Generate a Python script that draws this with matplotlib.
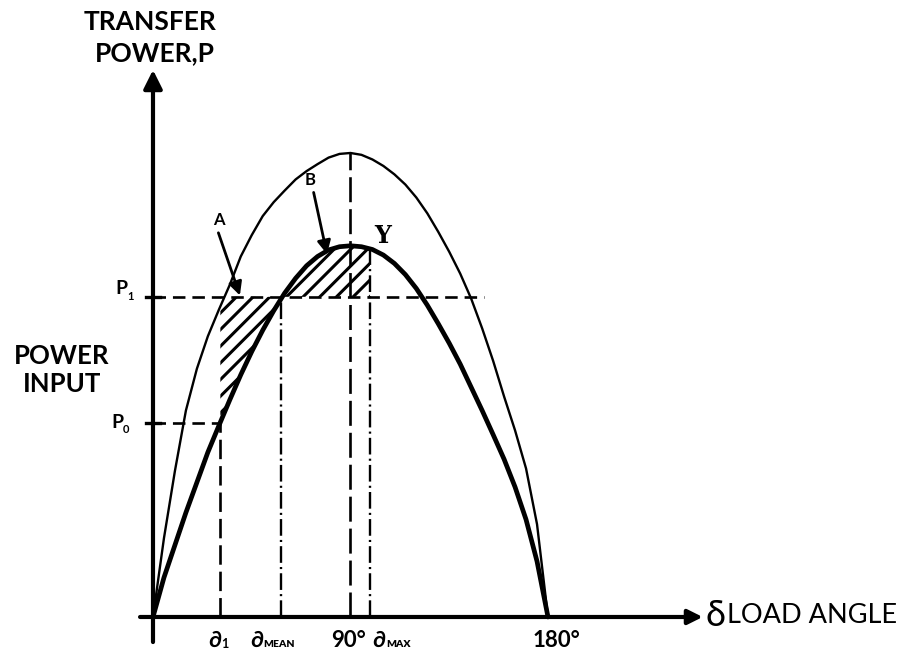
import numpy as np
import matplotlib
matplotlib.use("Agg")
import matplotlib.pyplot as plt

# ---------------- data ----------------
angle_deg = [0, 5, 10, 15, 20, 25, 30, 35, 40, 45, 50, 55, 60, 65, 70, 75, 80, 85, 90,
             95, 100, 105, 110, 115, 120, 125, 130, 135, 140, 145, 150, 155, 160, 165, 170, 175, 180]
outer_power = [0, 17, 31.5, 44.5, 53.5, 60.5, 66.2, 71.6, 77.7, 82.3, 86.4, 89.4, 91.9, 94.3, 96.1, 97.6, 99, 99.8, 100,
               99.6, 98.6, 97.2, 95.4, 93.2, 90.4, 87, 83, 78.7, 74, 68.6, 62.2, 55.2, 47.5, 40.2, 32, 20, 0]
inner_power = [0, 8.5, 15.5, 22.5, 29, 35.5, 41.2, 46.8, 52.2, 57.2, 61.8, 66, 69.8, 73, 75.7, 77.7, 79.1, 79.8, 80,
               79.8, 79.2, 78, 76.2, 73.8, 70.8, 67.2, 63.2, 59, 54.5, 49.5, 44.5, 39.3, 34, 28, 21, 12, 0]

delta_1 = 30.7
delta_mean = 58.5
delta_90 = 90
delta_max = 98.9
delta_180 = 180
P1 = 69.0
P0 = 41.8
p1_line_end = 150.7

# ---------------- figure ----------------
plt.rcParams['lines.scale_dashes'] = False
plt.rcParams['hatch.linewidth'] = 2.2
FONT = ['Lato', 'DejaVu Sans']

fig = plt.figure(figsize=(9.09, 6.51), dpi=100)
ax = fig.add_axes([0, 0, 1, 1])
ax.set_xlim(-69.72, 344.51)
ax.set_ylim(-7.33, 132.97)
ax.axis('off')

ang = np.array(angle_deg, dtype=float)
inner = np.array(inner_power, dtype=float)
outer = np.array(outer_power, dtype=float)

# hatched areas
xa = np.array([delta_1] + [a for a in angle_deg if delta_1 < a < delta_mean] + [delta_mean], dtype=float)
ax.fill_between(xa, np.interp(xa, ang, inner), P1, facecolor='none', edgecolor='k',
                hatch='//', linewidth=0, zorder=1)
xb = np.array([delta_mean] + [a for a in angle_deg if delta_mean < a < delta_max] + [delta_max], dtype=float)
ax.fill_between(xb, P1, np.interp(xb, ang, inner), facecolor='none', edgecolor='k',
                hatch='//', linewidth=0, zorder=1)

# curves
ax.plot(ang, outer, color='k', lw=1.7, zorder=3, solid_capstyle='round', solid_joinstyle='round')
ax.plot(ang, inner, color='k', lw=3.4, zorder=3, solid_capstyle='round', solid_joinstyle='round')

# guide lines
ax.plot([0, p1_line_end], [P1, P1], color='k', lw=1.9, dashes=(9, 5), zorder=2)
ax.plot([0, delta_1], [P0, P0], color='k', lw=1.9, dashes=(9, 5), zorder=2)
ax.plot([delta_1, delta_1], [0, P0], color='k', lw=1.9, dashes=(14, 5), zorder=2)
ax.plot([delta_mean, delta_mean], [0, P1], color='k', lw=1.7, dashes=(12, 3, 1.5, 3), zorder=2)
ax.plot([delta_90, delta_90], [0, 100], color='k', lw=1.9, dashes=(18, 5), zorder=2)
ax.plot([delta_max, delta_max], [0, np.interp(delta_max, ang, inner)], color='k', lw=1.7,
        dashes=(12, 3, 1.5, 3), zorder=2)

# y-axis ticks at P1, P0
for pv in (P1, P0):
    ax.plot([-3.0, 3.0], [pv, pv], color='k', lw=2.4, zorder=4)

# axes with arrows
ax.annotate('', xy=(0, 117.9), xytext=(0, -5.4),
            arrowprops=dict(arrowstyle='-|>', lw=3.0, color='k', mutation_scale=28,
                            shrinkA=0, shrinkB=0), zorder=5)
ax.annotate('', xy=(250.5, 0), xytext=(-5.9, 0),
            arrowprops=dict(arrowstyle='-|>', lw=3.0, color='k', mutation_scale=22,
                            shrinkA=0, shrinkB=0), zorder=5)

# annotation arrows A, B
ax.annotate('', xy=(39.6, P1 + 0.3), xytext=(29.8, 82.8),
            arrowprops=dict(arrowstyle='-|>', lw=2.0, color='k', mutation_scale=20,
                            shrinkA=0, shrinkB=0), zorder=6)
ax.text(30.1, 85.5, 'A', ha='center', va='center', fontsize=12, fontweight='bold', family=FONT)
ax.annotate('', xy=(79.3, 78.2), xytext=(73.2, 91.5),
            arrowprops=dict(arrowstyle='-|>', lw=2.0, color='k', mutation_scale=20,
                            shrinkA=0, shrinkB=0), zorder=6)
ax.text(71.5, 94.2, 'B', ha='center', va='center', fontsize=12, fontweight='bold', family=FONT)
ax.text(104.8, 82.1, 'Y', ha='center', va='center', fontsize=17, fontweight='bold',
        family=['DejaVu Serif'])

# axis titles
ax.text(-1.4, 128.2, 'TRANSFER', ha='center', va='center', fontsize=19, fontweight='bold', family=FONT)
ax.text(0.9, 121.6, 'POWER,P', ha='center', va='center', fontsize=19, fontweight='bold', family=FONT)
ax.text(-41.5, 56.3, 'POWER', ha='center', va='center', fontsize=18.5, fontweight='bold', family=FONT)
ax.text(-41.5, 50.3, 'INPUT', ha='center', va='center', fontsize=18.5, fontweight='bold', family=FONT)
ax.text(251.8, 0.3, 'δ', ha='left', va='center', fontsize=26, family=FONT)
ax.text(261.5, 0.3, 'LOAD ANGLE', ha='left', va='center', fontsize=19.5, family=FONT)

# P labels
ax.text(-14.2, 70.7, 'P', ha='center', va='center', fontsize=14, fontweight='bold', family=FONT)
ax.text(-11.6, 69.0, '1', ha='left', va='center', fontsize=8, fontweight='bold', family=FONT)
ax.text(-16.2, P0 + 0.2, 'P', ha='center', va='center', fontsize=14, fontweight='bold', family=FONT)
ax.text(-13.6, P0 - 1.5, '0', ha='left', va='center', fontsize=8, fontweight='bold', family=FONT)

# x labels
ylab = -5.0
ax.text(delta_1 - 2.5, ylab, '∂', ha='center', va='center', fontsize=16, fontweight='bold', family=FONT)
ax.text(delta_1 + 0.4, ylab - 0.9, '1', ha='left', va='center', fontsize=9, fontweight='bold', family=FONT)
ax.text(delta_mean - 11.3, ylab, '∂', ha='center', va='center', fontsize=16, fontweight='bold', family=FONT)
ax.text(delta_mean - 8.3, ylab - 0.9, 'MEAN', ha='left', va='center', fontsize=7.5, fontweight='heavy', family=FONT)
ax.text(delta_90 - 0.8, ylab, '90°', ha='center', va='center', fontsize=16, fontweight='bold', family=FONT)
ax.text(delta_max + 4.2, ylab, '∂', ha='center', va='center', fontsize=16, fontweight='bold', family=FONT)
ax.text(delta_max + 7.2, ylab - 0.9, 'MAX', ha='left', va='center', fontsize=7.5, fontweight='heavy', family=FONT)
ax.text(delta_180 + 4.0, ylab, '180°', ha='center', va='center', fontsize=16, fontweight='bold', family=FONT)

fig.savefig('out.png', dpi=100, facecolor='white')
